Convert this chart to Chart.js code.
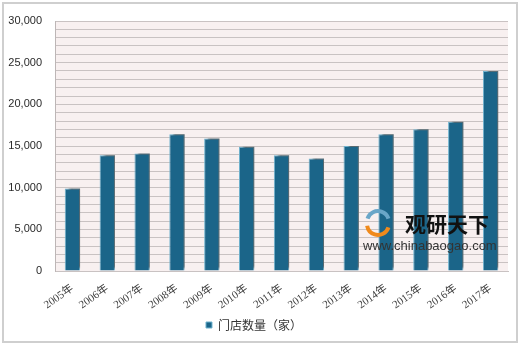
<!DOCTYPE html>
<html>
<head>
<meta charset="utf-8">
<script src="https://cdn.jsdelivr.net/npm/chart.js@4"></script>
<style>
  html, body { margin: 0; padding: 0; background: #fff; }
  #wrap { width: 520px; height: 349px; }
</style>
</head>
<body>
<div id="wrap"><canvas id="chart" width="520" height="349"></canvas></div>
<script>
var years = ['2005年', '2006年', '2007年', '2008年', '2009年', '2010年', '2011年',
             '2012年', '2013年', '2014年', '2015年', '2016年', '2017年'];
var stores = [9900, 13900, 14100, 16400, 15900, 14900, 13900, 13500, 15000, 16400, 17000, 17900, 24000];
var seriesName = '门店数量（家）';
var yMax = 30000;

// pink plot background, outer frame, watermark
var decor = {
    id: 'decor',
    beforeDraw: function (chart) {
        var ctx = chart.ctx, a = chart.chartArea;
        ctx.save();
        ctx.fillStyle = '#fff';
        ctx.fillRect(0, 0, chart.width, chart.height);
        ctx.fillStyle = '#f8f0f0';
        ctx.fillRect(a.left, a.top, a.right - a.left, a.bottom - a.top);
        ctx.strokeStyle = '#cfcfcf';
        ctx.lineWidth = 2;
        ctx.strokeRect(3, 3, 514, 339);
        ctx.restore();
    },
    afterDraw: function (chart) {
        var ctx = chart.ctx;
        ctx.save();
        // logo swirl
        ctx.lineWidth = 4;
        ctx.strokeStyle = '#6aa6c8';
        ctx.beginPath();
        ctx.arc(378, 222, 11, Math.PI * 1.1, Math.PI * 1.9);
        ctx.stroke();
        ctx.strokeStyle = '#f08a1c';
        ctx.beginPath();
        ctx.arc(378, 224, 11, Math.PI * 0.1, Math.PI * 0.95);
        ctx.stroke();
        ctx.fillStyle = '#111';
        ctx.font = 'bold 21px "Noto Sans CJK SC"';
        ctx.textBaseline = 'middle';
        ctx.fillText('观研天下', 405, 224);
        ctx.fillStyle = '#333';
        ctx.font = '13px "Liberation Sans"';
        ctx.fillText('www.chinabaogao.com', 363, 246);
        ctx.restore();
    }
};

// drop shadow behind the bars
var barShadow = {
    id: 'barShadow',
    beforeDatasetDraw: function (chart) {
        var ctx = chart.ctx;
        ctx.save();
        ctx.shadowColor = 'rgba(80,80,80,0.75)';
        ctx.shadowOffsetX = 4;
        ctx.shadowOffsetY = -3;
        ctx.shadowBlur = 2;
    },
    afterDatasetDraw: function (chart) {
        chart.ctx.restore();
    }
};

var ctx = document.getElementById('chart').getContext('2d');
var chart = new Chart(ctx, {
    type: 'bar',
    data: {
        labels: years,
        datasets: [{
            label: seriesName,
            data: stores,
            backgroundColor: '#1b6589',
            borderColor: '#6fb3cf',
            borderWidth: 1,
            categoryPercentage: 1,
            barPercentage: 0.44
        }]
    },
    options: {
        responsive: false,
        animation: false,
        layout: { padding: { top: 21, right: 12, bottom: 8, left: 0 } },
        scales: {
            x: {
                grid: { display: false },
                border: { color: '#c9c2c2' },
                ticks: {
                    minRotation: 35,
                    maxRotation: 35,
                    color: '#404040',
                    font: { family: '"Liberation Serif", "Noto Sans CJK SC"', size: 11 }
                },
                afterFit: function (s) { s.height = 38; }
            },
            y: {
                min: 0,
                max: yMax,
                grid: { color: '#c9c2c2', drawTicks: false },
                border: { color: '#bdb6b6' },
                ticks: {
                    stepSize: 1000,
                    padding: 13,
                    color: '#2a2a2a',
                    autoSkip: false,
                    font: { family: '"Liberation Sans"', size: 11 },
                    callback: function (v) { return v % 5000 === 0 ? v.toLocaleString('en-US') : ''; }
                },
                afterFit: function (s) { s.width = 55; }
            }
        },
        plugins: {
            legend: {
                position: 'bottom',
                labels: {
                    boxWidth: 6,
                    boxHeight: 6,
                    padding: 10,
                    color: '#333',
                    font: { family: '"Noto Sans CJK SC"', size: 12 }
                }
            },
            tooltip: { enabled: false }
        }
    },
    plugins: [decor, barShadow]
});
</script>
</body>
</html>
